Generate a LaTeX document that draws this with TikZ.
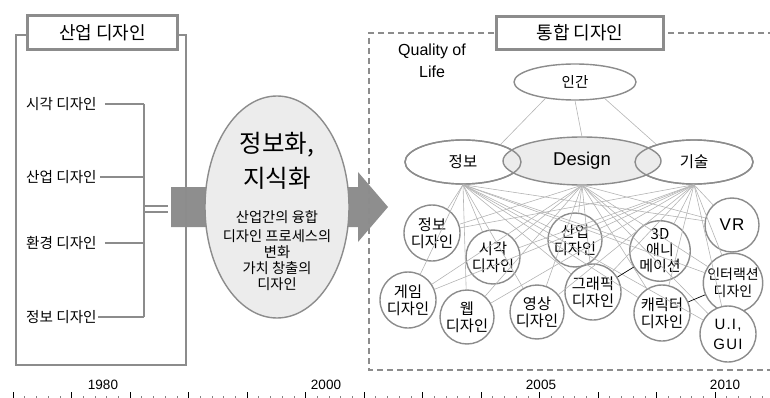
\documentclass[tikz,border=0pt]{standalone}
\usepackage{fontspec}
\setmainfont{Liberation Sans}
\newfontfamily\kr{Noto Sans CJK KR}
\newfontfamily\wide{Liberation Sans}[LetterSpace=8.0]
\usetikzlibrary{shapes.geometric}
\definecolor{bd}{HTML}{8C8C8C}
\definecolor{fan}{HTML}{B4B4B4}
\definecolor{lightfill}{HTML}{ECECEC}
\definecolor{arrowgray}{HTML}{8E8E8E}
\begin{document}
\begin{tikzpicture}[x=1pt,y=-1pt,
  titlebox/.style={draw=bd, line width=3pt, fill=white, inner sep=0pt, font=\kr\fontsize{18}{20}\selectfont},
  item/.style={inner sep=1pt, font=\kr\fontsize{14.6}{16}\selectfont},
  conn/.style={draw=bd, line width=1.4pt},
  circ/.style={circle, draw=bd, line width=1.4pt, fill=white, inner sep=0pt, align=center, font=\kr\fontsize{15.3}{17}\selectfont},
  small/.style={font=\kr\fontsize{14.3}{15}\selectfont},
  ell/.style={ellipse, draw=bd, line width=1.4pt, inner sep=0pt},
  fanline/.style={draw=fan, line width=0.6pt},
  blackline/.style={draw=black, line width=0.7pt},
  year/.style={font=\fontsize{13.5}{14}\selectfont}]
\useasboundingbox (0,0) rectangle (770,398);

% big arrow
\fill[arrowgray] (171,187) -- (358,187) -- (358,172) -- (388,207) -- (358,242) -- (358,227) -- (171,227) -- cycle;

% left box
\draw[bd, line width=1.5pt] (16,35) rectangle (186,365);
\node[titlebox, minimum width=150, minimum height=34] (t1) at (102.5,32.5) {산업 디자인};

\node[item, anchor=west] (i1) at (25,104) {시각 디자인};
\node[item, anchor=west] (i2) at (25,177) {산업 디자인};
\node[item, anchor=west] (i3) at (25,243) {환경 디자인};
\node[item, anchor=west] (i4) at (25,317) {정보 디자인};
\coordinate (vt) at (144,104);
\coordinate (vb) at (144,317);
\draw[conn] (vt) -- (vb);
\draw[conn] ([xshift=7pt]i1.east) -- (i1.east -| vt);
\draw[conn] ([xshift=2pt]i2.east) -- (i2.east -| vt);
\draw[conn] ([xshift=7pt]i3.east) -- (i3.east -| vt);
\draw[conn] ([xshift=0pt]i4.east) -- (i4.east -| vt);
\coordinate (d1) at (144,206);
\coordinate (d2) at (144,212);
\coordinate (a1) at (168,206);
\coordinate (a2) at (168,212);
\draw[conn] (d1) -- (a1);
\draw[conn] (d2) -- (a2);

% central ellipse
\node[ell, fill=lightfill, minimum width=144, minimum height=222] (info) at (277,207) {};
\node[align=center, font=\kr\fontsize{24.5}{35}\selectfont] (big) at (277,161) {정보화,\\지식화};
\node[small] (s1) at (277,217) {산업간의 융합};
\node[small] (s2) at (277,236) {디자인 프로세스의};
\node[small] (s3) at (277,252) {변화};
\node[small] (s4) at (277,268) {가치 창출의};
\node[small] (s5) at (277,284) {디자인};

% right dashed box
\draw[bd, line width=1.5pt, dash pattern=on 6pt off 4pt] (774,33) -- (369,33) -- (369,370) -- (774,370);
\node[titlebox, minimum width=167, minimum height=33] (t2) at (580,33) {통합 디자인};
\node[align=center, font=\fontsize{16}{22}\selectfont] (qol) at (432,61) {Quality of\\Life};

% top ellipses
\node[ell, fill=white, minimum width=122, minimum height=36, font=\kr\fontsize{14.5}{15}\selectfont] (human) at (575,82) {인간};
\node[ell, fill=white, minimum width=116, minimum height=44] (jb) at (463,162) {};
\node[ell, fill=white, minimum width=118, minimum height=44] (gs) at (694,162) {};
\node[ellipse, fill=lightfill, inner sep=0pt, minimum width=158, minimum height=48] (design) at (582,161) {};
\node[ell, minimum width=116, minimum height=44, font=\kr\fontsize{15.5}{16}\selectfont] at (463,162) {정보};
\node[ell, minimum width=118, minimum height=44, font=\kr\fontsize{15.5}{16}\selectfont] at (694,162) {기술};
\node[ell, minimum width=158, minimum height=48, font=\fontsize{18.5}{20}\selectfont] at (582,161) {Design};

\draw[fanline] (human.209) -- (jb.25);
\draw[fanline] (human.south) -- (design.north);
\draw[fanline] (human.-29) -- (gs.155);

% circles
\node[circ, minimum size=56] (c1) at (432,233) {정보\\디자인};
\node[circ, minimum size=54] (c2) at (493,257) {시각\\디자인};
\node[circ, minimum size=54] (c3) at (575,240) {산업\\디자인};
\node[circ, minimum size=58, font=\kr\fontsize{15}{16}\selectfont] (c4) at (660,251) {3D\\애니\\메이션};
\node[circ, minimum size=54, font=\wide\fontsize{17}{20}\selectfont] (c5) at (732,225) {VR};
\node[circ, minimum size=55, font=\kr\fontsize{14}{17}\selectfont] (c6) at (733,283) {인터랙션\\디자인};
\node[circ, minimum size=56] (c7) at (408,300) {게임\\디자인};
\node[circ, minimum size=54] (c8) at (467,317) {웹\\디자인};
\node[circ, minimum size=54] (c9) at (537,312) {영상\\디자인};
\node[circ, minimum size=56] (c10) at (593,292) {그래픽\\디자인};
\node[circ, minimum size=56] (c11) at (662,313) {캐릭터\\디자인};
\node[circ, minimum size=56, font=\wide\fontsize{15}{20}\selectfont] (c12) at (728,334) {U.I,\\GUI};

\foreach \s in {jb,design,gs}{
  \foreach \t in {c1,c2,c3,c4,c5,c6,c7,c8,c9,c10,c11,c12}{
    \draw[fanline] (\s.south) -- (\t);
  }
}
\draw[blackline] (c10) -- (c4);
\draw[blackline] (c11) -- (c6);

% timeline
\foreach \k in {0,...,12}{
  \draw[black, line width=0.8pt] (13+58.5*\k,392) -- (13+58.5*\k,398);
  \foreach \m in {1,...,4}{
    \draw[gray, line width=0.6pt] (13+58.5*\k+11.7*\m,396) -- (13+58.5*\k+11.7*\m,398);
  }
}
\node[year] (y1) at (103,385) {1980};
\node[year] (y2) at (326,385) {2000};
\node[year] (y3) at (541,385) {2005};
\node[year] (y4) at (725,385) {2010};
\end{tikzpicture}
\end{document}
